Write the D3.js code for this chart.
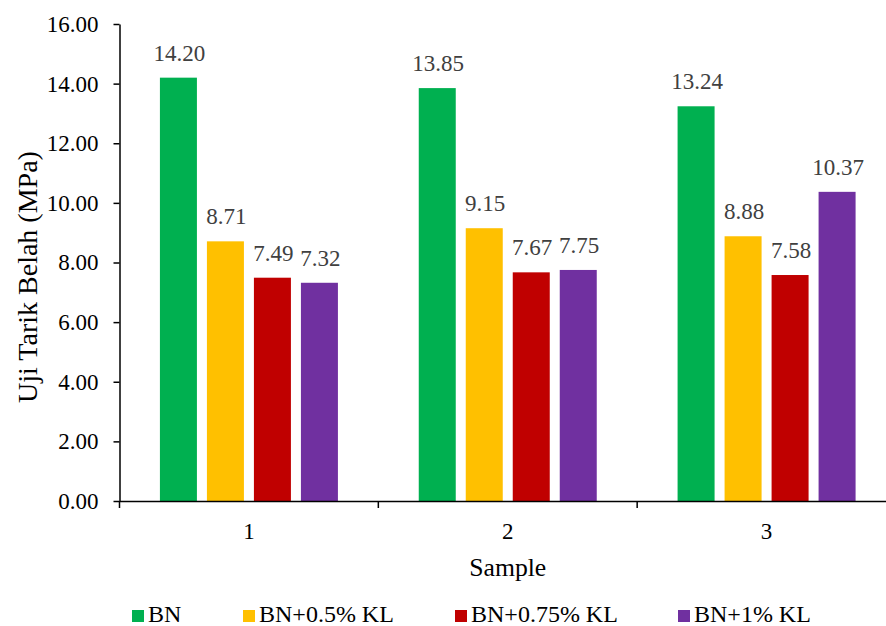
<!DOCTYPE html>
<html><head><meta charset="utf-8">
<script src="https://cdn.jsdelivr.net/npm/d3@7"></script>
<style>html,body{margin:0;padding:0;background:#fff;}svg{display:block;} svg text{font-family:"Liberation Serif","Tinos","Times New Roman","DejaVu Serif",serif !important;}</style>
</head><body>
<svg id="chart" width="886" height="626"></svg>
<script>
const categories = ["1", "2", "3"];
const seriesNames = ["BN", "BN+0.5% KL", "BN+0.75% KL", "BN+1% KL"];
const seriesColors = ["#00B050", "#FFC000", "#C00000", "#7030A0"];
const valuesBN = [14.20, 13.85, 13.24];
const valuesBN05 = [8.71, 9.15, 8.88];
const valuesBN075 = [7.49, 7.67, 7.58];
const valuesBN1 = [7.32, 7.75, 10.37];
const yTicks = [0, 2, 4, 6, 8, 10, 12, 14, 16];

const seriesValues = [valuesBN, valuesBN05, valuesBN075, valuesBN1];
const svg = d3.select("#chart");
const mLeft = 119.5, mRight = 896, mTop = 24, mBottom = 501;

const x0 = d3.scaleBand().domain(categories).range([mLeft, mRight]).padding(0);
const bw = x0.bandwidth();
const x1 = d3.scaleBand().domain(seriesNames)
  .range([bw/2 - 89, bw/2 + 89]).paddingInner(10/47).paddingOuter(0);
const y = d3.scaleLinear().domain([0, 16]).range([mBottom, mTop]);

// bars
const groups = svg.append("g").selectAll("g").data(categories).join("g")
  .attr("transform", d => `translate(${x0(d)},0)`);
groups.selectAll("rect").data((c, ci) => seriesNames.map((s, si) => ({s, si, v: seriesValues[si][ci]})))
  .join("rect")
  .attr("x", d => x1(d.s)).attr("width", x1.bandwidth())
  .attr("y", d => y(d.v)).attr("height", d => y(0) - y(d.v))
  .attr("fill", d => seriesColors[d.si]);
groups.selectAll("text").data((c, ci) => seriesNames.map((s, si) => ({s, si, v: seriesValues[si][ci]})))
  .join("text")
  .attr("x", d => x1(d.s) + x1.bandwidth()/2 + 1)
  .attr("y", d => y(d.v) - 17)
  .attr("text-anchor", "middle").attr("font-size", 23).attr("fill", "#404040")
  .text(d => d.v.toFixed(2));

// y axis
const yAxis = svg.append("g").attr("transform", `translate(${mLeft},0)`)
  .call(d3.axisLeft(y).tickValues(yTicks).tickFormat(d => d.toFixed(2)).tickSizeInner(6).tickSizeOuter(0).tickPadding(15));
yAxis.select(".domain").attr("stroke", "#000").attr("stroke-width", 1.5);
yAxis.selectAll(".tick line").attr("stroke", "#000").attr("stroke-width", 1.5);
yAxis.selectAll(".tick text").attr("font-size", 23).attr("fill", "#000");

// x axis
const xAxis = svg.append("g").attr("transform", `translate(0,${mBottom})`)
  .call(d3.axisBottom(x0).tickSize(0).tickPadding(22));
xAxis.select(".domain").attr("stroke", "#000").attr("stroke-width", 1.5);
xAxis.selectAll(".tick text").attr("font-size", 23).attr("fill", "#000");
// boundary ticks
const bounds = categories.map(c => x0(c)).concat([mRight]);
xAxis.selectAll("line.bound").data(bounds).join("line").attr("class", "bound")
  .attr("x1", d => d).attr("x2", d => d).attr("y1", 0).attr("y2", 7)
  .attr("stroke", "#000").attr("stroke-width", 1.5);

// axis titles
svg.append("text").attr("x", (mLeft + mRight)/2).attr("y", 576).attr("text-anchor", "middle")
  .attr("font-size", 25.7).attr("fill", "#000").text("Sample");
svg.append("text").attr("transform", `translate(37,277) rotate(-90)`)
  .attr("text-anchor", "middle").attr("font-size", 28).attr("fill", "#000").text("Uji Tarik Belah (MPa)");

// legend
const legendX = [132, 243, 455, 678];
const leg = svg.append("g").selectAll("g").data(seriesNames).join("g")
  .attr("transform", (d, i) => `translate(${legendX[i]},0)`);
leg.append("rect").attr("x", 0).attr("y", 610).attr("width", 12).attr("height", 12)
  .attr("fill", (d, i) => seriesColors[i]);
leg.append("text").attr("x", 16).attr("y", 622).attr("font-size", 24).attr("fill", "#000").text(d => d);
</script>
</body></html>
